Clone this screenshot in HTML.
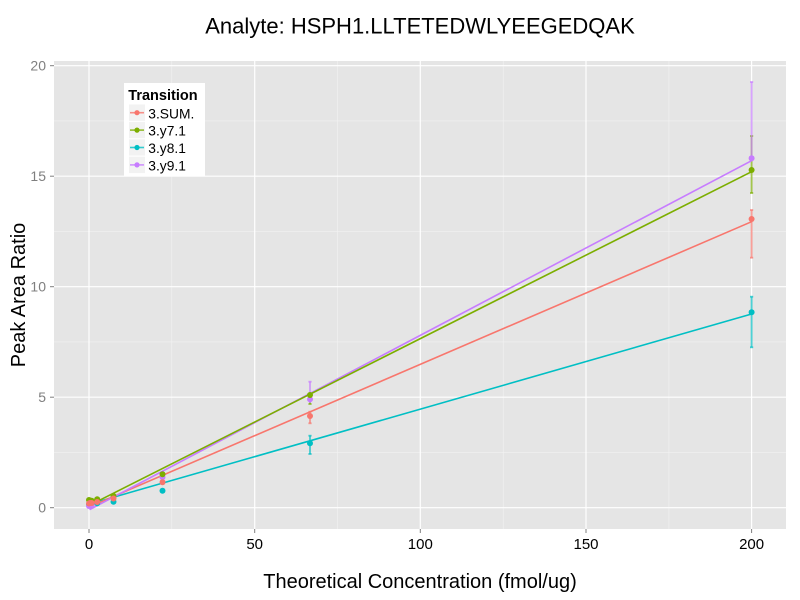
<!DOCTYPE html>
<html><head><meta charset="utf-8"><style>
html,body{margin:0;padding:0;background:#fff;}
svg{display:block;font-family:"Liberation Sans",Arial,sans-serif;}
</style></head><body>
<svg width="800" height="600" viewBox="0 0 800 600" xmlns="http://www.w3.org/2000/svg">
<rect x="0" y="0" width="800" height="600" fill="#fff"/>
<!-- panel -->
<rect x="54" y="61" width="732" height="468" fill="#E5E5E5"/>
<!-- minor grid -->
<g stroke="#F2F2F2" stroke-width="0.6">
<line x1="54" x2="786" y1="452.45" y2="452.45"/>
<line x1="54" x2="786" y1="341.95" y2="341.95"/>
<line x1="54" x2="786" y1="231.45" y2="231.45"/>
<line x1="54" x2="786" y1="120.95" y2="120.95"/>
<line y1="61" y2="529" x1="171.8" x2="171.8"/>
<line y1="61" y2="529" x1="337.5" x2="337.5"/>
<line y1="61" y2="529" x1="503.2" x2="503.2"/>
<line y1="61" y2="529" x1="668.9" x2="668.9"/>
</g>
<!-- major grid -->
<g stroke="#FFFFFF" stroke-width="1.2">
<line x1="54" x2="786" y1="507.7" y2="507.7"/>
<line x1="54" x2="786" y1="397.2" y2="397.2"/>
<line x1="54" x2="786" y1="286.7" y2="286.7"/>
<line x1="54" x2="786" y1="176.2" y2="176.2"/>
<line x1="54" x2="786" y1="65.7" y2="65.7"/>
<line y1="61" y2="529" x1="89" x2="89"/>
<line y1="61" y2="529" x1="254.7" x2="254.7"/>
<line y1="61" y2="529" x1="420.3" x2="420.3"/>
<line y1="61" y2="529" x1="586" x2="586"/>
<line y1="61" y2="529" x1="751.6" x2="751.6"/>
</g>
<!-- ticks -->
<g stroke="#7F7F7F" stroke-width="1">
<line x1="50" x2="54" y1="507.7" y2="507.7"/>
<line x1="50" x2="54" y1="397.2" y2="397.2"/>
<line x1="50" x2="54" y1="286.7" y2="286.7"/>
<line x1="50" x2="54" y1="176.2" y2="176.2"/>
<line x1="50" x2="54" y1="65.7" y2="65.7"/>
<line y1="529" y2="533" x1="89" x2="89"/>
<line y1="529" y2="533" x1="254.7" x2="254.7"/>
<line y1="529" y2="533" x1="420.3" x2="420.3"/>
<line y1="529" y2="533" x1="586" x2="586"/>
<line y1="529" y2="533" x1="751.6" x2="751.6"/>
</g>
<g fill="#7F7F7F" font-size="14" text-anchor="end">
<text x="46" y="512.7">0</text>
<text x="46" y="402.2">5</text>
<text x="46" y="291.7">10</text>
<text x="46" y="181.2">15</text>
<text x="46" y="70.7">20</text>
</g>
<g fill="#000" font-size="15" text-anchor="middle">
<text x="89" y="549">0</text>
<text x="254.7" y="549">50</text>
<text x="420.3" y="549">100</text>
<text x="586" y="549">150</text>
<text x="751.6" y="549">200</text>
</g>
<!-- error bars -->
<g stroke-width="1.8" stroke-opacity="0.7">
<g stroke="#7CAE00">
<line x1="751.6" x2="751.6" y1="136" y2="193"/><line x1="750" x2="753.2" y1="136" y2="136"/><line x1="750" x2="753.2" y1="193" y2="193"/>
<line x1="310" x2="310" y1="394" y2="404"/><line x1="308.4" x2="311.6" y1="404" y2="404"/>
</g>
<g stroke="#F8766D">
<line x1="751.6" x2="751.6" y1="210" y2="257.7"/><line x1="750" x2="753.2" y1="210" y2="210"/><line x1="750" x2="753.2" y1="257.7" y2="257.7"/>
<line x1="310" x2="310" y1="411.7" y2="423.3"/><line x1="308.4" x2="311.6" y1="411.7" y2="411.7"/><line x1="308.4" x2="311.6" y1="423.3" y2="423.3"/>
</g>
<g stroke="#00BFC4">
<line x1="751.6" x2="751.6" y1="296.7" y2="347.3"/><line x1="750" x2="753.2" y1="296.7" y2="296.7"/><line x1="750" x2="753.2" y1="347.3" y2="347.3"/>
<line x1="310" x2="310" y1="435.7" y2="454"/><line x1="308.4" x2="311.6" y1="435.7" y2="435.7"/><line x1="308.4" x2="311.6" y1="454" y2="454"/>
</g>
<g stroke="#C77CFF">
<line x1="751.6" x2="751.6" y1="82" y2="160"/><line x1="750" x2="753.2" y1="82" y2="82"/>
<line x1="310" x2="310" y1="381.7" y2="403"/><line x1="308.4" x2="311.6" y1="381.7" y2="381.7"/>
</g>
</g>
<!-- fit lines -->
<g stroke-width="1.6" fill="none">
<line x1="89.5" y1="504.1" x2="751.6" y2="314" stroke="#00BFC4"/>
<line x1="89.5" y1="506.8" x2="751.6" y2="221.7" stroke="#F8766D"/>
<line x1="89.5" y1="509.7" x2="751.6" y2="160.7" stroke="#C77CFF"/>
<line x1="89.5" y1="505.3" x2="751.6" y2="171.7" stroke="#7CAE00"/>
</g>
<!-- points -->
<g>
<g fill="#00BFC4">
<circle cx="89" cy="505" r="3"/><circle cx="90" cy="504.4" r="3"/><circle cx="91.7" cy="504" r="3"/><circle cx="97.2" cy="503.3" r="3"/><circle cx="113.5" cy="501.7" r="3"/><circle cx="162.5" cy="490.7" r="3"/><circle cx="310" cy="443.3" r="3"/><circle cx="751.6" cy="312.3" r="3"/>
</g>
<g fill="#C77CFF">
<circle cx="89" cy="506" r="3"/><circle cx="90" cy="505.5" r="3"/><circle cx="91.7" cy="504.5" r="3"/><circle cx="97.2" cy="501.5" r="3"/><circle cx="113.5" cy="497" r="3"/><circle cx="162.5" cy="477.3" r="3"/><circle cx="310" cy="399.3" r="3"/><circle cx="751.6" cy="158.3" r="3"/>
</g>
<g fill="#7CAE00">
<circle cx="89" cy="500" r="3"/><circle cx="90" cy="500.5" r="3"/><circle cx="91.7" cy="500.8" r="3"/><circle cx="97.2" cy="499.3" r="3"/><circle cx="113.5" cy="496" r="3"/><circle cx="162.5" cy="474.3" r="3"/><circle cx="310" cy="395" r="3"/><circle cx="751.6" cy="170" r="3"/>
</g>
<g fill="#F8766D">
<circle cx="89" cy="503.5" r="3"/><circle cx="90" cy="503" r="3"/><circle cx="91.7" cy="503" r="3"/><circle cx="97.2" cy="502" r="3"/><circle cx="113.5" cy="498.5" r="3"/><circle cx="162.5" cy="482.3" r="3"/><circle cx="310" cy="416" r="3"/><circle cx="751.6" cy="219" r="3"/>
</g>
</g>
<!-- legend -->
<rect x="124" y="83" width="81" height="93" fill="#fff"/>
<text x="128.3" y="100" font-size="14.5" font-weight="bold" fill="#000">Transition</text>
<g stroke="#fff" stroke-width="1" fill="#F2F2F2">
<rect x="128.5" y="104" width="17" height="17.4"/>
<rect x="128.5" y="121.4" width="17" height="17.4"/>
<rect x="128.5" y="138.8" width="17" height="17.4"/>
<rect x="128.5" y="156.2" width="17" height="17.4"/>
</g>
<g stroke-width="1.6" stroke-opacity="0.8">
<line x1="130" x2="144" y1="112.7" y2="112.7" stroke="#F8766D"/>
<line x1="130" x2="144" y1="130.1" y2="130.1" stroke="#7CAE00"/>
<line x1="130" x2="144" y1="147.5" y2="147.5" stroke="#00BFC4"/>
<line x1="130" x2="144" y1="164.9" y2="164.9" stroke="#C77CFF"/>
</g>
<circle cx="137" cy="112.7" r="2.6" fill="#F8766D"/>
<circle cx="137" cy="130.1" r="2.6" fill="#7CAE00"/>
<circle cx="137" cy="147.5" r="2.6" fill="#00BFC4"/>
<circle cx="137" cy="164.9" r="2.6" fill="#C77CFF"/>
<g font-size="13.8" fill="#000">
<text x="148.3" y="118.3">3.SUM.</text>
<text x="148.3" y="135.7">3.y7.1</text>
<text x="148.3" y="153.1">3.y8.1</text>
<text x="148.3" y="170.5">3.y9.1</text>
</g>
<!-- titles -->
<text x="420" y="33.5" font-size="22" text-anchor="middle" fill="#000">Analyte: HSPH1.LLTETEDWLYEEGEDQAK</text>
<text x="420" y="588" font-size="20" text-anchor="middle" fill="#000">Theoretical Concentration (fmol/ug)</text>
<text transform="translate(25,295) rotate(-90)" font-size="20" text-anchor="middle" fill="#000">Peak Area Ratio</text>
</svg>
</body></html>
